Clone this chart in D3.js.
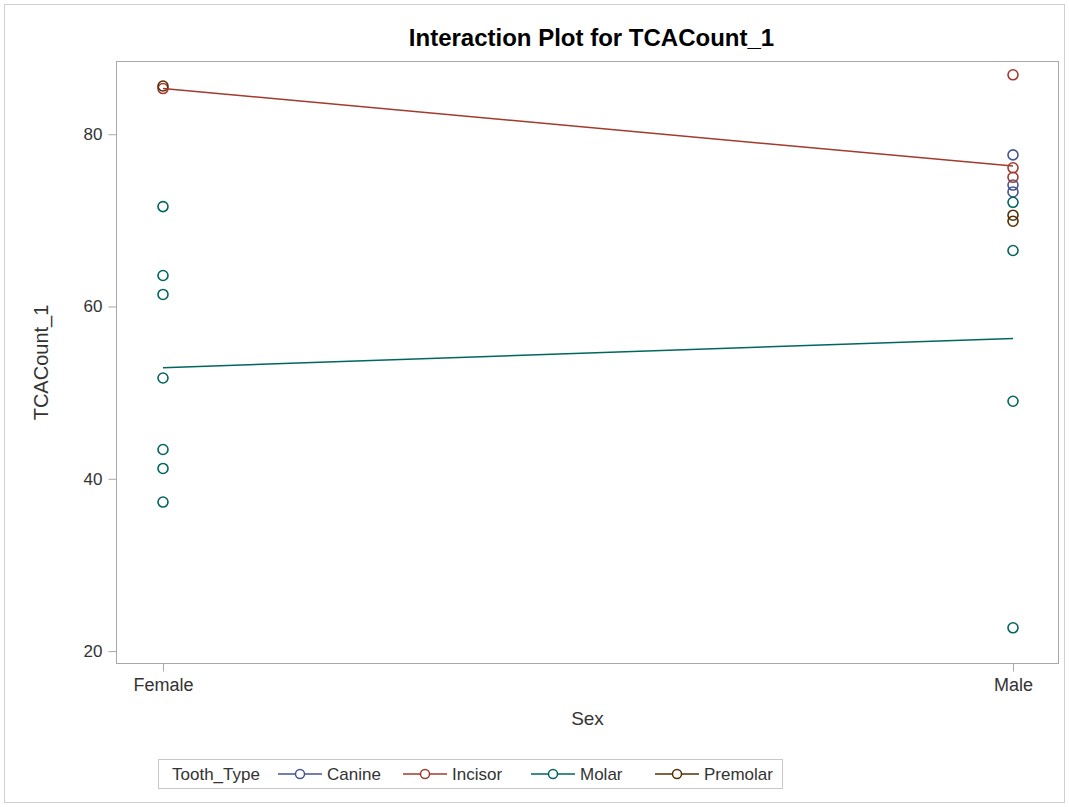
<!DOCTYPE html>
<html>
<head>
<meta charset="utf-8">
<script src="https://cdn.jsdelivr.net/npm/d3@7"></script>
<style>
  html, body { margin: 0; padding: 0; background: #fff; }
  svg { display: block; font-family: "Liberation Sans", Arial, sans-serif; }
</style>
</head>
<body>
<svg id="chart" width="1069" height="807"></svg>
<script>
// Levels of the two factors
const sexLevels = ["Female", "Male"];
const toothTypes = ["Canine", "Incisor", "Molar", "Premolar"];
const toothColors = ["#445694", "#A23A2E", "#01665E", "#543005"];

// Observed TCACount_1 values by sex and tooth type
const femaleCanine = [];
const femaleIncisor = [85.3];
const femaleMolar = [71.6, 63.6, 61.4, 51.7, 43.4, 41.2, 37.3];
const femalePremolar = [85.6];
const maleCanine = [77.6, 74.1, 73.3];
const maleIncisor = [86.9, 76.1, 75.0];
const maleMolar = [72.1, 66.5, 49.0, 22.7];
const malePremolar = [70.6, 69.9];

// Fitted means drawn as interaction lines (null = no line)
const fitFemale = [null, 85.3, 52.9, null];
const fitMale = [null, 76.3, 56.3, null];

// Axis ticks
const yTicks = [20, 40, 60, 80];

const observations = [
  { sex: "Female", groups: [femaleCanine, femaleIncisor, femaleMolar, femalePremolar] },
  { sex: "Male", groups: [maleCanine, maleIncisor, maleMolar, malePremolar] }
];

const svg = d3.select("#chart");
const W = 1069, H = 807;
const plot = { left: 116, right: 1059, top: 61, bottom: 664 };
const FONT = "'Liberation Sans', Arial, sans-serif";

// outer border
svg.append("rect")
  .attr("x", 4.5).attr("y", 4.5).attr("width", W - 9).attr("height", H - 9)
  .attr("fill", "#fff").attr("stroke", "#d0d0d0");

const x = d3.scalePoint().domain(sexLevels).range([163, 1013]);
const y = d3.scaleLinear().domain([18.5, 88.5]).range([plot.bottom, plot.top]);
const color = d3.scaleOrdinal().domain(toothTypes).range(toothColors);

// plot frame
svg.append("rect")
  .attr("x", plot.left + 0.5).attr("y", plot.top + 0.5)
  .attr("width", plot.right - plot.left - 1).attr("height", plot.bottom - plot.top - 1)
  .attr("fill", "none").attr("stroke", "#a8a8a8");

// y axis
const yAxis = svg.append("g")
  .attr("transform", `translate(${plot.left + 0.5},0)`)
  .call(d3.axisLeft(y).tickValues(yTicks).tickSize(8).tickPadding(6).tickFormat(d3.format("d")));
yAxis.select(".domain").remove();
yAxis.selectAll(".tick line").attr("stroke", "#a8a8a8");
yAxis.selectAll(".tick text").attr("fill", "#333").style("font-size", "17px").style("font-family", FONT);

// x axis
const xAxis = svg.append("g")
  .attr("transform", `translate(0,${plot.bottom - 0.5})`)
  .call(d3.axisBottom(x).tickSize(8).tickPadding(7));
xAxis.select(".domain").remove();
xAxis.selectAll(".tick line").attr("stroke", "#a8a8a8");
xAxis.selectAll(".tick text").attr("fill", "#333").style("font-size", "18px").style("font-family", FONT);

// axis titles
svg.append("text").attr("x", (plot.left + plot.right) / 2).attr("y", 725)
  .attr("text-anchor", "middle").attr("fill", "#333").style("font-size", "19px").text("Sex");
svg.append("text")
  .attr("transform", `translate(48,${(plot.top + plot.bottom) / 2}) rotate(-90)`)
  .attr("text-anchor", "middle").attr("fill", "#333").style("font-size", "20px").text("TCACount_1");

// title
svg.append("text").attr("x", (plot.left + plot.right) / 2 + 4).attr("y", 46)
  .attr("text-anchor", "middle").attr("fill", "#000")
  .style("font-size", "24px").style("font-weight", "bold").text("Interaction Plot for TCACount_1");

// observation markers
const pts = [];
observations.forEach(o => o.groups.forEach((vals, i) =>
  vals.forEach(v => pts.push({ sex: o.sex, type: toothTypes[i], value: v }))));

svg.append("g").selectAll("circle").data(pts).join("circle")
  .attr("cx", d => x(d.sex)).attr("cy", d => y(d.value)).attr("r", 5)
  .attr("fill", "none").attr("stroke", d => color(d.type)).attr("stroke-width", 1.6);

// interaction lines through fitted means
const lines = toothTypes.map((t, i) => ({ type: t, f: fitFemale[i], m: fitMale[i] }))
  .filter(d => d.f !== null && d.m !== null);
svg.append("g").selectAll("line").data(lines).join("line")
  .attr("x1", x("Female")).attr("y1", d => y(d.f))
  .attr("x2", x("Male")).attr("y2", d => y(d.m))
  .attr("stroke", d => color(d.type)).attr("stroke-width", 1.5);

// legend
const lg = svg.append("g");
lg.append("rect").attr("x", 158.5).attr("y", 759.5).attr("width", 624).attr("height", 29)
  .attr("fill", "#fff").attr("stroke", "#c8c8c8");
lg.append("text").attr("x", 172).attr("y", 780).attr("fill", "#333")
  .style("font-size", "17px").text("Tooth_Type");
const labelX = [327, 452, 580, 704];
toothTypes.forEach((t, i) => {
  const g = lg.append("g").attr("transform", `translate(${labelX[i] - 49},774)`);
  g.append("line").attr("x1", 0).attr("x2", 44).attr("y1", 0).attr("y2", 0)
    .attr("stroke", color(t)).attr("stroke-width", 1.5);
  g.append("circle").attr("cx", 22).attr("cy", 0).attr("r", 4.5)
    .attr("fill", "#fff").attr("stroke", color(t)).attr("stroke-width", 1.5);
  g.append("text").attr("x", 49).attr("y", 6).attr("fill", "#333")
    .style("font-size", "17px").text(t);
});
</script>
</body>
</html>
